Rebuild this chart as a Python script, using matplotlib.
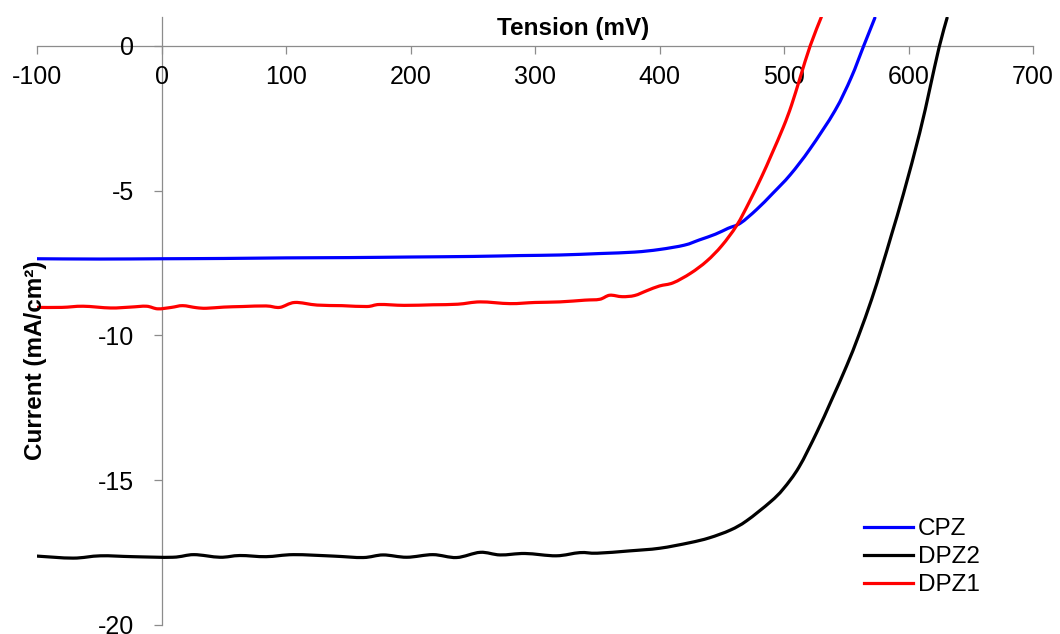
import matplotlib
matplotlib.use('Agg')
import matplotlib.pyplot as plt
from matplotlib.path import Path
from matplotlib.patches import PathPatch
from matplotlib.lines import Line2D

plt.rcParams['font.family'] = ['Liberation Sans', 'DejaVu Sans']
plt.rcParams['axes.unicode_minus'] = False

# CPZ (bleu)
cpz_v = [-100, -50, 0, 50, 100, 150, 200, 250, 288, 320, 352, 380, 400, 420, 432,
         445, 455, 465, 478, 491, 505, 521, 541, 554, 564, 573]
cpz_j = [-7.35, -7.36, -7.35, -7.34, -7.32, -7.31, -7.29, -7.27, -7.24, -7.22, -7.17,
         -7.12, -7.03, -6.88, -6.70, -6.50, -6.30, -6.12, -5.65, -5.09, -4.45, -3.55,
         -2.23, -1.09, 0.0, 0.97]

# DPZ2 (noir)
dpz2_v = [-100, -71, -49, -23, 9, 26, 47, 63, 84, 106, 138, 162, 178, 197, 218, 237,
          256, 272, 292, 317, 336, 350, 376, 400, 424, 440, 457, 470, 489, 499.4, 512,
          526.3, 538, 550.4, 560, 570.4, 578.5, 586.5, 596, 609, 617, 624.5, 631]
dpz2_j = [-17.62, -17.69, -17.61, -17.64, -17.66, -17.57, -17.66, -17.60, -17.64,
          -17.57, -17.62, -17.67, -17.58, -17.66, -17.57, -17.67, -17.49, -17.58,
          -17.53, -17.61, -17.50, -17.52, -17.44, -17.35, -17.16, -16.99,
          -16.72, -16.40, -15.75, -15.30, -14.55, -13.35, -12.25, -11.04, -10.0,
          -8.75, -7.65, -6.50, -5.10, -3.00, -1.50, -0.06, 0.97]

# DPZ1 (rouge)
dpz1_v = [-100, -80, -63, -41, -25, -12, -3, 8, 17, 28, 36, 50, 65, 84, 95,
          107, 125, 145, 165, 175, 195, 218, 238, 256, 280, 300, 320, 340, 352, 360,
          370, 380, 390, 400, 411, 425, 438, 450, 462, 472, 482, 490, 499.5, 506,
          513, 521, 530]
dpz1_j = [-9.03, -9.03, -8.99, -9.05, -9.02, -8.99, -9.08, -9.03,
          -8.97, -9.04, -9.06, -9.02, -9.00, -8.98, -9.03, -8.86, -8.95, -8.97, -9.00,
          -8.93, -8.96, -8.94, -8.92, -8.84, -8.90, -8.86, -8.84, -8.78, -8.75, -8.61,
          -8.66, -8.62, -8.45, -8.29, -8.18, -7.85, -7.43, -6.90, -6.20, -5.40, -4.52,
          -3.75, -2.80, -2.05, -1.09, 0.0, 1.0]


def courbe_lisse(xs, ys):
    # courbe lissee type Excel (Catmull-Rom -> Bezier) passant par les points
    pts = list(zip(xs, ys))
    n = len(pts)
    verts = [pts[0]]
    codes = [Path.MOVETO]
    for i in range(n - 1):
        p0 = pts[i - 1] if i > 0 else pts[i]
        p1 = pts[i]
        p2 = pts[i + 1]
        p3 = pts[i + 2] if i + 2 < n else pts[i + 1]
        c1 = (p1[0] + (p2[0] - p0[0]) / 6, p1[1] + (p2[1] - p0[1]) / 6)
        c2 = (p2[0] - (p3[0] - p1[0]) / 6, p2[1] - (p3[1] - p1[1]) / 6)
        verts += [c1, c2, p2]
        codes += [Path.CURVE4] * 3
    return Path(verts, codes)


fig = plt.figure(figsize=(10.6, 6.34), dpi=100)
ax = fig.add_axes([37/1060, 1 - 625/634, (1033 - 37)/1060, (625 - 17)/634])

series = [(cpz_v, cpz_j, '#0000ff', 'CPZ'),
          (dpz2_v, dpz2_j, 'black', 'DPZ2'),
          (dpz1_v, dpz1_j, '#ff0000', 'DPZ1')]
handles = []
for xs, ys, c, nom in series:
    patch = PathPatch(courbe_lisse(xs, ys), facecolor='none', edgecolor=c, lw=2.3,
                      capstyle='round', joinstyle='round', zorder=3)
    ax.add_patch(patch)
    handles.append(Line2D([], [], color=c, lw=2.3, label=nom))

ax.set_xlim(-100, 700)
ax.set_ylim(-20, 1)
ax.set_xticks(range(-100, 701, 100))
ax.set_yticks([0, -5, -10, -15, -20])

# axes qui se croisent en (0, 0)
ax.spines['left'].set_position(('data', 0))
ax.spines['bottom'].set_position(('data', 0))
ax.spines['right'].set_visible(False)
ax.spines['top'].set_visible(False)
for s in ('left', 'bottom'):
    ax.spines[s].set_color('#8c8c8c')
    ax.spines[s].set_linewidth(0.9)
    ax.spines[s].set_zorder(0)
ax.tick_params(axis='x', direction='out', length=6, width=0.9, color='#8c8c8c',
               labelsize=18, pad=8)
ax.tick_params(axis='y', direction='out', length=6, width=0.9, color='#8c8c8c',
               labelsize=18, pad=14)

fig.text(573/1060, 1 - 28/634, 'Tension (mV)', fontsize=17.5, fontweight='bold',
         ha='center', va='center')
fig.text(36/1060, 1 - 360/634, 'Current (mA/cm²)', fontsize=17.5, fontweight='bold',
         rotation=90, ha='center', va='center', zorder=5)

ax.legend(handles=handles, loc='upper left', bbox_to_anchor=(852/1060, 1 - 506/634),
          bbox_transform=fig.transFigure, frameon=False, fontsize=17.5,
          handlelength=2.0, handletextpad=0.2, labelspacing=0.25, borderpad=0)

fig.savefig('out.png', dpi=100)
